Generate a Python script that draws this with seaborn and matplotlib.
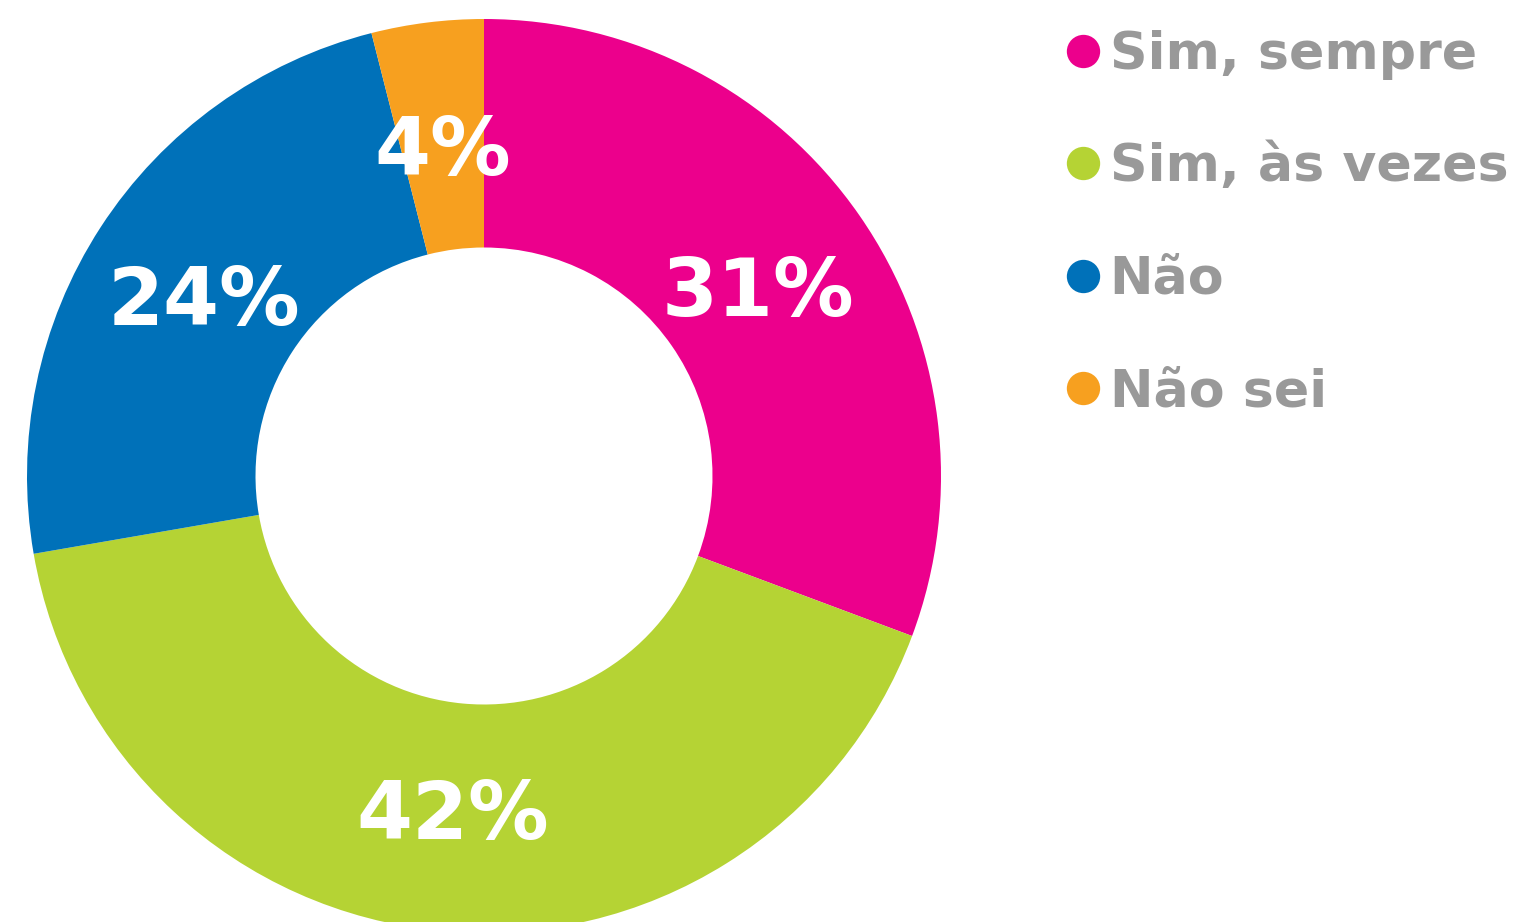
import numpy as np
import matplotlib
matplotlib.use("Agg")
import matplotlib.pyplot as plt
from matplotlib.lines import Line2D
import seaborn as sns

# Survey answers and their shares (%)
categories = ["Sim, sempre", "Sim, às vezes", "Não", "Não sei"]
values = [31, 42, 24, 4]
colors = ["#EC008C", "#B5D334", "#0071B9", "#F7A01F"]

sns.set_theme(style="white")
plt.rcParams["font.family"] = ["DejaVu Sans"]

W, H = 1531, 922
fig = plt.figure(figsize=(W / 100, H / 100), dpi=100)
ax = fig.add_axes([0, 0, 1, 1])

# donut geometry in pixel units of the canvas
cx, cy_top, R = 484, 476, 457
wedges, _ = ax.pie(
    values,
    colors=colors,
    startangle=90,
    counterclock=False,
    radius=1.0,
    wedgeprops=dict(width=0.5, linewidth=0),
)

ax.set_aspect("auto")
ax.set_xlim(-cx / R, (W - cx) / R)
ax.set_ylim(-(H - cy_top) / R, cy_top / R)
ax.axis("off")

# percentage labels at the middle of each ring segment
for w, v in zip(wedges, values):
    theta = np.deg2rad((w.theta1 + w.theta2) / 2)
    r = 0.73
    ax.text(r * np.cos(theta), r * np.sin(theta), f"{v}%",
            ha="center", va="center_baseline", color="white",
            fontsize=58, fontweight="bold")

handles = [Line2D([0], [0], marker="o", linestyle="", markersize=24,
                  markerfacecolor=c, markeredgewidth=0) for c in colors]
leg = fig.legend(handles, categories, loc="upper left",
                 bbox_to_anchor=(1066 / W, 1 - 30 / H),
                 frameon=False, prop=dict(size=37.5, weight="bold"),
                 handlelength=0.64, handletextpad=0.2, labelspacing=1.2,
                 borderaxespad=0, borderpad=0)
for t in leg.get_texts():
    t.set_color("#999999")

fig.savefig("out.png", dpi=100)
